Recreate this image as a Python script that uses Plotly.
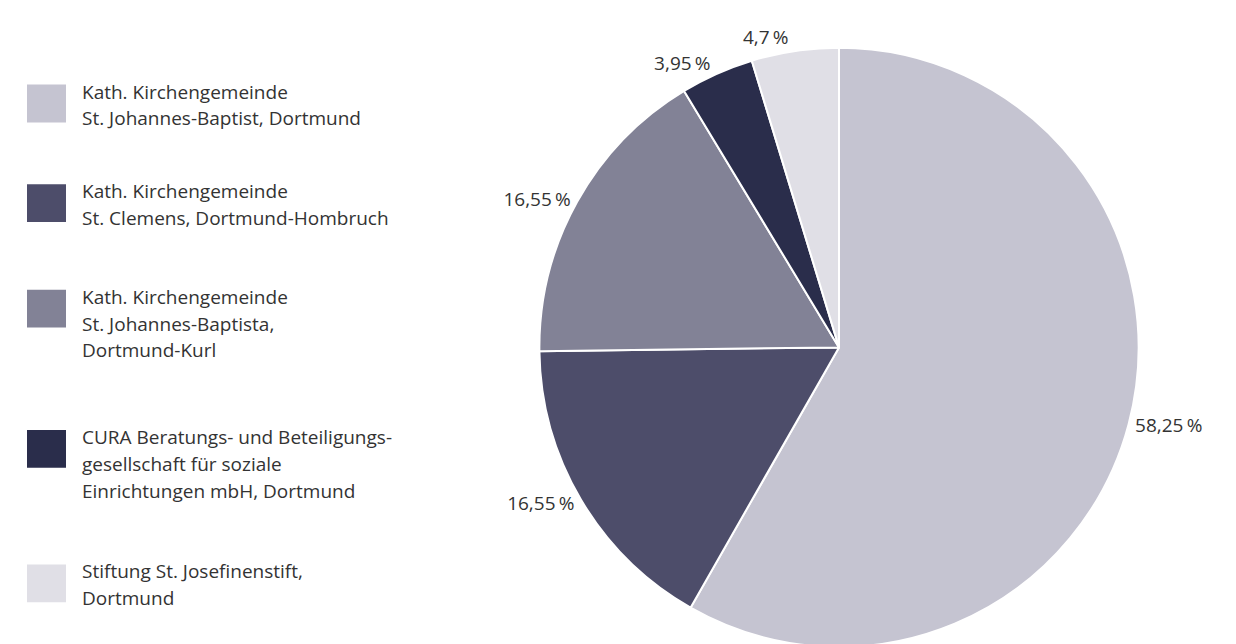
import plotly.graph_objects as go

# ---- data ----
labels = [
    "Kath. Kirchengemeinde\nSt. Johannes-Baptist, Dortmund",
    "Kath. Kirchengemeinde\nSt. Clemens, Dortmund-Hombruch",
    "Kath. Kirchengemeinde\nSt. Johannes-Baptista,\nDortmund-Kurl",
    "CURA Beratungs- und Beteiligungs-\ngesellschaft für soziale\nEinrichtungen mbH, Dortmund",
    "Stiftung St. Josefinenstift,\nDortmund",
]
values = [58.25, 16.55, 16.55, 3.95, 4.7]
colors = ["#c5c4d1", "#4d4d6a", "#828296", "#2a2d4b", "#e0dfe6"]

# ---- layout constants ----
W, H = 1236, 652
FONT = "Open Sans"
TXT = "#333333"
legend_tops = [85, 185, 291, 432, 567]   # px from top
line_gap = 27
sw_x0, sw_x1, sw_h = 27, 66, 38
text_x = 80

def py(px):
    return 1 - px / H

pct_text = [("%g" % v).replace(".", ",") + "\u2009%" for v in values]

fig = go.Figure()
fig.add_trace(go.Pie(
    values=values,
    labels=[l.replace("\n", " ") for l in labels],
    text=pct_text,
    texttemplate="%{text}",
    textposition="outside",
    textfont=dict(family=FONT, size=19, color=TXT),
    marker=dict(colors=colors, line=dict(color="white", width=2)),
    sort=False,
    direction="clockwise",
    rotation=0,
    showlegend=False,
    hoverinfo="label+text",
    domain=dict(x=[538 / W, 1140 / W], y=[(H - 650) / H, (H - 48) / H]),
))

shapes = []
annotations = []
for lab, col, top in zip(labels, colors, legend_tops):
    shapes.append(dict(type="rect", xref="paper", yref="paper",
                       x0=sw_x0 / W, x1=sw_x1 / W, y0=py(top), y1=py(top + sw_h),
                       fillcolor=col, line=dict(width=0)))
    for i, line in enumerate(lab.split("\n")):
        annotations.append(dict(
            text=line, xref="paper", yref="paper",
            x=text_x / W, y=py(top + 7 + i * line_gap),
            xanchor="left", yanchor="middle", showarrow=False,
            font=dict(family=FONT, size=19, color=TXT)))

fig.update_layout(
    width=W, height=H,
    margin=dict(l=0, r=0, t=0, b=0),
    paper_bgcolor="white", plot_bgcolor="white",
    shapes=shapes, annotations=annotations,
    font=dict(family=FONT, color=TXT),
)

post = (
    "document.body.style.margin='0';document.body.style.overflow='hidden';"
    "var s=document.createElement('style');s.textContent='path.textline{display:none}';"
    "document.head.appendChild(s);"
)
fig.write_html("out.html", config={"displayModeBar": False}, post_script=post)
